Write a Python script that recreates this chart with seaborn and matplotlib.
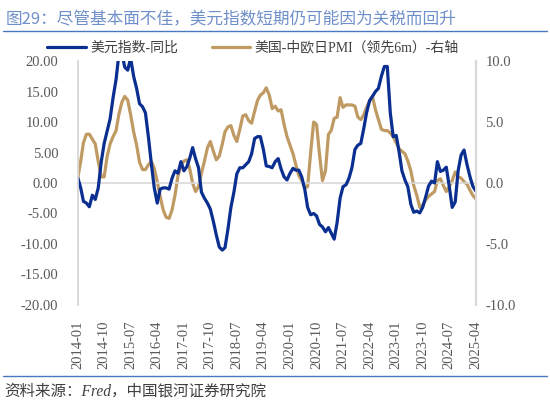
import matplotlib
matplotlib.use("Agg")
import matplotlib.pyplot as plt
import matplotlib.dates as mdates
from matplotlib.ticker import FormatStrFormatter, MultipleLocator
import numpy as np
import pandas as pd
import seaborn as sns

# monthly, 2014-01 .. 2025-04 (136 points)
months = pd.date_range("2014-01-01", "2025-04-01", freq="MS")

usd_yoy = [
    0.9, -0.8, -3.0, -3.3, -3.9, -2.0, -2.7, -0.8, 3.5, 6.5,
    8.5, 10.5, 14.0, 17.0, 21.0, 21.5, 19.0, 18.5, 20.5, 17.5,
    15.5, 13.0, 12.5, 11.5, 7.5, 3.0, -0.8, -3.3, -1.0, -0.8,
    -0.8, -1.0, 0.8, 2.0, 1.6, 3.5, 2.0, 2.7, 4.0, 5.8,
    4.0, 2.5, -1.5, -2.5, -3.3, -4.3, -6.3, -8.5, -10.5, -11.0,
    -10.6, -7.5, -4.0, -1.5, 1.5, 2.5, 2.5, 3.0, 3.5, 4.8,
    7.3, 7.6, 7.6, 5.5, 2.8, 2.7, 2.5, 3.5, 4.0, 2.3,
    1.0, 0.5, 1.6, 2.4, 2.1, 2.1, 1.0, -1.0, -4.0, -5.2,
    -5.0, -5.4, -6.8, -7.2, -8.0, -7.3, -8.2, -9.2, -6.5, -2.5,
    -0.6, -0.3, 0.8, 2.5, 5.5, 6.2, 6.5, 9.0, 11.5, 13.5,
    14.2, 15.0, 15.5, 17.5, 19.1, 19.1, 11.5, 7.6, 7.8, 5.0,
    2.0, 0.5, -0.6, -3.5, -4.8, -4.6, -4.9, -4.0, -2.3, -0.5,
    0.3, 0.0, 3.5, 1.9, 2.1, 2.6, -0.5, -4.0, -3.1, 2.0,
    4.6, 5.4, 3.0, 1.0, -0.5, -1.3,
]

pmi_gap = [
    0.4, 1.8, 3.3, 4.0, 4.0, 3.6, 3.2, 1.75, 0.5, 0.5,
    2.2, 3.2, 3.8, 4.3, 5.6, 6.6, 7.1, 6.8, 5.6, 4.2,
    3.1, 1.7, 1.1, 1.1, 1.5, 1.75, 1.2, 0.1, -1.1, -2.2,
    -2.8, -2.9, -2.2, -1.0, 0.6, 1.4, 1.8, 1.9, 1.2, 0.0,
    -0.7, -0.3, 0.8, 1.8, 2.9, 3.4, 2.6, 1.9, 2.2, 3.2,
    4.2, 4.6, 4.7, 3.9, 3.4, 4.4, 5.5, 5.6, 5.1, 4.9,
    5.9, 6.8, 7.2, 7.4, 7.8, 7.2, 6.1, 6.3, 5.9, 6.0,
    4.8, 3.8, 3.1, 2.4, 1.5, 0.6, 0.2, -0.4, -0.3, 2.5,
    5.0, 4.8, 2.3, 0.2, 1.0, 4.0, 4.3, 5.3, 5.4, 7.0,
    6.2, 6.4, 6.4, 6.4, 6.3, 5.4, 5.2, 5.6, 6.2, 6.7,
    7.1, 6.0, 5.2, 4.4, 4.3, 4.3, 4.1, 3.8, 3.3, 2.8,
    2.6, 2.4, 1.8, 1.0, -0.2, -1.0, -2.0, -1.8, -1.4, -1.1,
    -0.9, -0.7, 0.2, 0.35, -0.2, -0.7, -0.3, 0.2, 0.9, 0.5,
    0.4, 0.1, -0.1, -0.6, -1.0, -1.3,
]

label_usd = "美元指数-同比"
label_pmi = "美国-中欧日PMI（领先6m）-右轴"
title = "图29：尽管基本面不佳，美元指数短期仍可能因为关税而回升"
source = "资料来源：Fred，中国银河证券研究院"

df = pd.DataFrame({"date": months, "usd": usd_yoy, "pmi": pmi_gap})

sns.set_style("white")
plt.rcParams["font.family"] = ["Liberation Serif", "Noto Sans CJK SC", "DejaVu Sans"]

blue = "#0b2f91"
tan = "#c09a63"
grid_gray = "#d9d9d9"
tick_color = "#595959"

fig = plt.figure(figsize=(5.5, 4.03), dpi=100)
ax = fig.add_axes([0.1413, 0.2432, 0.7237, 0.6054])
ax2 = ax.twinx()

sns.lineplot(data=df, x="date", y="usd", ax=ax, color=blue, lw=2.3, label=label_usd, legend=False)
sns.lineplot(data=df, x="date", y="pmi", ax=ax2, color=tan, lw=2.3, label=label_pmi, legend=False)

ax.set_ylim(-20, 20)
ax2.set_ylim(-10, 10)
ax.yaxis.set_major_locator(MultipleLocator(5))
ax2.yaxis.set_major_locator(MultipleLocator(5))
ax.yaxis.set_major_formatter(FormatStrFormatter("%.2f"))
ax2.yaxis.set_major_formatter(FormatStrFormatter("%.1f"))
ax.set_xlim(months[0], months[-1])

xticks = months[::9]
ax.set_xticks(xticks)
ax.xaxis.set_major_formatter(mdates.DateFormatter("%Y-%m"))
ax.tick_params(axis="x", rotation=90, length=0, pad=11, labelsize=10.5, colors=tick_color)
ax.tick_params(axis="y", length=0, pad=14, labelsize=10.5, colors=tick_color)
ax2.tick_params(axis="y", length=0, pad=7, labelsize=10.5, colors=tick_color)
ax.set_xlabel("")
ax.set_ylabel("")
ax2.set_ylabel("")

ax.axhline(0, color=grid_gray, lw=1.2, zorder=0)
for a in (ax, ax2):
    for side in ("top", "bottom"):
        a.spines[side].set_visible(False)
    a.spines["left"].set_color(grid_gray)
    a.spines["right"].set_color(grid_gray)
    a.spines["left"].set_linewidth(1.2)
    a.spines["right"].set_linewidth(1.5)
ax.set_zorder(ax2.get_zorder() + 1)
ax.patch.set_visible(False)

h1, l1 = ax.get_legend_handles_labels()
h2, l2 = ax2.get_legend_handles_labels()
fig.legend(h1 + h2, l1 + l2, loc="center", bbox_to_anchor=(0.46, 0.881), ncol=2,
           frameon=False, fontsize=10, handlelength=2.8, columnspacing=2.4,
           handletextpad=0.3, labelcolor="#404040")

fig.text(0.01, 1 - 20 / 403, title, fontsize=12, color="#6f8fc9", va="center",
         family=["Noto Sans CJK SC", "DejaVu Sans"])
fig.add_artist(plt.Line2D([0.005, 0.995], [1 - 31 / 403] * 2, transform=fig.transFigure,
                          color="#4a78c0", lw=1))
fig.add_artist(plt.Line2D([0.005, 0.995], [1 - 376 / 403] * 2, transform=fig.transFigure,
                          color="#4a78c0", lw=1))
fig.text(0.008, 1 - 391 / 403, source, fontsize=11.2, color="#404040", va="center",
         style="italic", family=["Liberation Serif", "Noto Sans CJK SC"])

fig.savefig("out.png", dpi=100)
